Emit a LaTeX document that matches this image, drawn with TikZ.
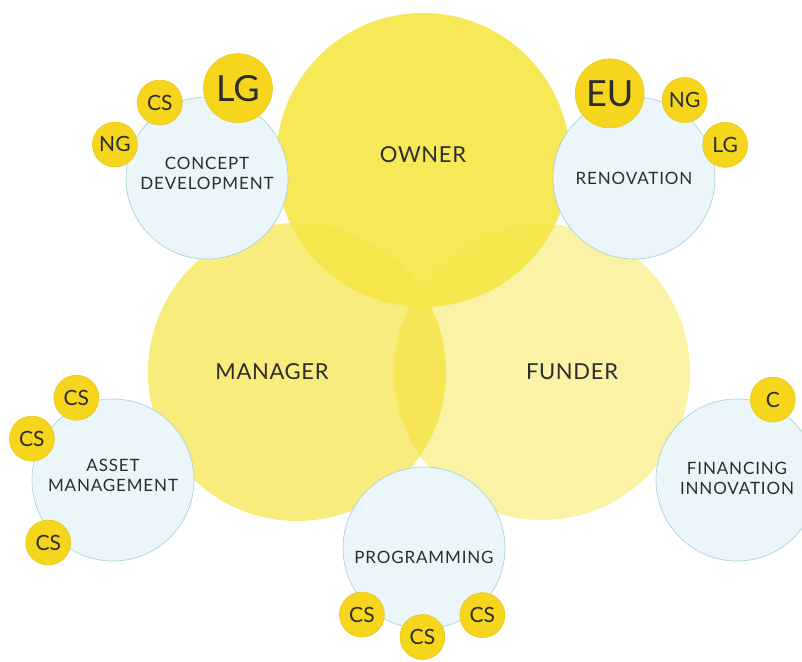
\documentclass[tikz,border=0pt]{standalone}
\usepackage{fontspec}
\setmainfont{Lato}
\newfontfamily\spaced[LetterSpace=5]{Lato}
\newfontfamily\rolefont[LetterSpace=3]{Lato}
\usetikzlibrary{calc, positioning}
\definecolor{sun}{RGB}{244,222,20}
\definecolor{ownersun}{RGB}{247,230,70}
\definecolor{tagyellow}{RGB}{245,214,28}
\definecolor{tagedge}{RGB}{228,196,20}
\definecolor{ice}{RGB}{234,246,249}
\definecolor{iceedge}{RGB}{165,205,212}
\definecolor{ink}{RGB}{45,45,45}

\begin{document}
\begin{tikzpicture}[
    x=1pt, y=1pt,
    role/.style={circle, fill=sun, minimum size=298pt, inner sep=0pt, outer sep=0pt},
    rolelabel/.style={font=\fontsize{22}{24}\selectfont\rolefont, text=ink},
    task/.style={circle, draw=iceedge, line width=0.6pt, fill=ice, minimum size=162pt, inner sep=0pt, outer sep=0pt},
    tasktext/.style={align=center, font=\fontsize{17}{20}\selectfont\spaced, text=ink},
    tag/.style={circle, draw=tagedge, line width=0.5pt, fill=tagyellow, minimum size=45pt, inner sep=0pt, font=\fontsize{21}{22}\selectfont, text=ink},
    bigtag/.style={tag, minimum size=69pt, font=\fontsize{36}{36}\selectfont}
]
\useasboundingbox (0,0) rectangle (802,661);
\fill[white] (0,0) rectangle (802,661);
% the three roles
\node[role, fill opacity=0.55] (mgr) at (297,289) {};
\node[role, fill opacity=0.38, minimum size=296pt] (fund) at (542,289) {};
\node[role, fill=ownersun, fill opacity=0.9, minimum size=294pt] (own) at (423,501) {};
\node[rolelabel] (own-txt) at ([yshift=5pt]own.center) {OWNER};
\node[rolelabel] (mgr-txt) at ([xshift=-25pt]mgr.center) {MANAGER};
\node[rolelabel] (fund-txt) at ([xshift=30pt]fund.center) {FUNDER};
% tasks
\node[task] (cd) at (207,483) {};
\node[task] (ren) at (634,483) {};
\node[task] (am) at (113,181) {};
\node[task] (fi) at (737,181) {};
\node[task] (prog) at (424,113) {};
\node[tasktext] (cd-txt) at ([yshift=5pt]cd.center) {CONCEPT\\DEVELOPMENT};
\node[tasktext] (ren-txt) at (ren.center) {RENOVATION};
\node[tasktext] (am-txt) at ([yshift=5pt]am.center) {ASSET\\MANAGEMENT};
\node[tasktext] (fi-txt) at ([yshift=2pt]fi.center) {FINANCING\\INNOVATION};
\node[tasktext] (prog-txt) at ([yshift=-9pt]prog.center) {PROGRAMMING};
% tags
\node[tag] (cd-ng) at ($(cd)+(160:98)$) {NG};
\node[tag] (cd-cs) at ($(cd)+(122:89)$) {CS};
\node[bigtag] (cd-lg) at ($(cd)+(71:95)$) {LG};
\node[bigtag] (ren-eu) at ($(ren)+(106:88)$) {EU};
\node[tag] (ren-ng) at ($(ren)+(57:93)$) {NG};
\node[tag] (ren-lg) at ($(ren)+(20:97)$) {LG};
\node[tag] (am-cs1) at ($(am)+(114:90)$) {CS};
\node[tag] (am-cs2) at ($(am)+(153:91)$) {CS};
\node[tag] (am-cs3) at ($(am)+(224:90)$) {CS};
\node[tag] (fi-c) at ($(fi)+(66:88)$) {C};
\node[tag] (prog-cs1) at ($(prog)+(227:91)$) {CS};
\node[tag] (prog-cs2) at ($(prog)+(269:89)$) {CS};
\node[tag] (prog-cs3) at ($(prog)+(311:89)$) {CS};
\end{tikzpicture}
\end{document}
